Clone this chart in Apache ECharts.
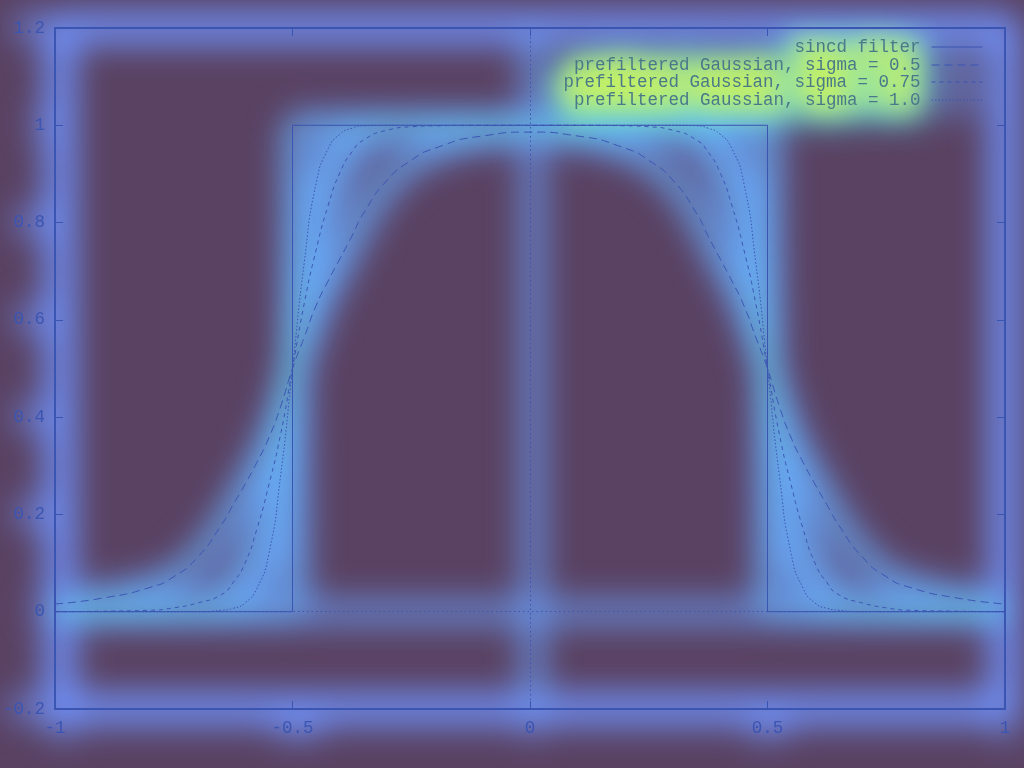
<!DOCTYPE html>
<html>
<head>
<meta charset="utf-8">
<script src="https://cdn.jsdelivr.net/npm/echarts@6/dist/echarts.min.js"></script>
<style>
  html, body { margin: 0; padding: 0; background: #5a4262; overflow: hidden; }
  .layer { position: absolute; left: 0; top: 0; width: 1024px; height: 768px; }
  #glow { filter: blur(17px); }
  #hot { filter: blur(13px); }
</style>
</head>
<body>
<div id="glow" class="layer"></div>
<div id="hot" class="layer"></div>
<div id="main" class="layer"></div>
<script>
// ---- data ----
const seriesNames = ['sincd filter', 'prefiltered Gaussian, sigma = 0.5', 'prefiltered Gaussian, sigma = 0.75', 'prefiltered Gaussian, sigma = 1.0'];

const sincX = [-1, -0.5, -0.5, 0.5, 0.5, 1];
const sincY = [0, 0, 1, 1, 0, 0];

const xs = [-1, -0.9, -0.8, -0.75, -0.7, -0.65, -0.625, -0.6, -0.575, -0.55, -0.525, -0.5, -0.475, -0.45, -0.425, -0.4, -0.375, -0.35, -0.3, -0.25, -0.2, -0.1,
            0,
            0.1, 0.2, 0.25, 0.3, 0.35, 0.375, 0.4, 0.425, 0.45, 0.475, 0.5, 0.525, 0.55, 0.575, 0.6, 0.625, 0.65, 0.7, 0.75, 0.8, 0.9, 1];

const gauss050 = [0.016, 0.028, 0.05, 0.072, 0.112, 0.178, 0.22, 0.262, 0.307, 0.357, 0.422, 0.5, 0.565, 0.63, 0.68, 0.726, 0.772, 0.82, 0.888, 0.928, 0.953, 0.978,
                  0.986,
                  0.978, 0.953, 0.928, 0.888, 0.82, 0.772, 0.726, 0.68, 0.63, 0.565, 0.5, 0.422, 0.357, 0.307, 0.262, 0.22, 0.178, 0.112, 0.072, 0.05, 0.028, 0.016];

const gauss075 = [0, 0.001, 0.003, 0.008, 0.018, 0.035, 0.06, 0.1, 0.17, 0.26, 0.365, 0.5, 0.635, 0.745, 0.835, 0.903, 0.945, 0.97, 0.99, 0.997, 0.999, 1,
                  1,
                  1, 0.999, 0.997, 0.99, 0.97, 0.945, 0.903, 0.835, 0.745, 0.635, 0.5, 0.365, 0.26, 0.17, 0.1, 0.06, 0.035, 0.018, 0.008, 0.003, 0.001, 0];

const gauss100 = [0, 0, 0, 0, 0, 0.003, 0.007, 0.018, 0.048, 0.118, 0.28, 0.5, 0.72, 0.882, 0.952, 0.982, 0.994, 0.999, 1, 1, 1, 1,
                  1,
                  1, 1, 1, 1, 0.999, 0.994, 0.982, 0.952, 0.882, 0.72, 0.5, 0.28, 0.118, 0.048, 0.018, 0.007, 0.003, 0, 0, 0, 0, 0];

const xTicks = [-1, -0.5, 0, 0.5, 1];
const yTicks = [-0.2, 0, 0.2, 0.4, 0.6, 0.8, 1, 1.2];

// ---- build ----
function pairs(a, b) { return a.map((v, i) => [v, b[i]]); }

const FONT = '"Liberation Mono", "DejaVu Sans Mono", monospace';
const dashes = ['solid', [8, 5], [4, 4], [1.5, 2]];
const legendTops = [38, 56, 73, 91];

// mode: 'main' | 'glow' | 'hot'
function build(mode) {
  const ink = '#3b55b2';
  const isMain = mode === 'main';
  const isGlow = mode === 'glow';
  const isHot = mode === 'hot';
  const lineGlow = '#6aa2ff';
  const frameGlow = '#7094ff';
  const textGlow = '#7094ff';
  const hotColor = 'rgba(80,255,190,0.11)';

  const axisCommon = (pos, isX, showLabel) => ({
    type: 'value',
    position: pos,
    min: isX ? xTicks[0] : yTicks[0],
    max: isX ? xTicks[xTicks.length - 1] : yTicks[yTicks.length - 1],
    interval: isX ? 0.5 : 0.2,
    axisLine: { show: !isHot, onZero: false, lineStyle: { color: isGlow ? frameGlow : ink, width: isGlow ? 30 : 2 } },
    axisTick: { show: !isHot, inside: true, length: 8, lineStyle: { color: isGlow ? frameGlow : ink, width: isGlow ? 6 : 1 } },
    splitLine: { show: false },
    axisLabel: {
      show: showLabel && !isHot,
      fontFamily: FONT,
      fontSize: 17.5,
      color: isGlow ? textGlow : ink,
      fontWeight: isGlow ? 'bold' : 'normal',
      textBorderColor: isGlow ? textGlow : 'transparent',
      textBorderWidth: isGlow ? 9 : 0,
      margin: 10,
      showMinLabel: true,
      showMaxLabel: true
    }
  });

  const curves = [pairs(sincX, sincY), pairs(xs, gauss050), pairs(xs, gauss075), pairs(xs, gauss100)];

  const series = curves.map((d, i) => {
    let lc = ink, lw = 1, lt = dashes[i];
    if (isGlow) { lc = lineGlow; lw = 24; lt = 'solid'; }
    if (isHot) { lc = hotColor; lw = 14; lt = 'solid'; }
    return {
      name: seriesNames[i],
      type: 'line',
      data: d,
      symbol: 'none',
      smooth: i === 0 ? false : 0.6,
      color: lc,
      lineStyle: { color: lc, width: lw, type: lt, opacity: isGlow ? 0.9 : 1 },
      z: 3,
      markLine: (i === 0 && !isHot) ? {
        silent: true,
        symbol: 'none',
        label: { show: false },
        lineStyle: { color: isGlow ? lineGlow : ink, width: isGlow ? 20 : 1, type: isGlow ? 'solid' : [1.5, 3], opacity: isGlow ? 0.9 : 1 },
        data: [{ xAxis: 0 }, { yAxis: 0 }]
      } : undefined
    };
  });

  const legends = seriesNames.map((n, i) => {
    let tc = '#4a7a8a', tw = 'normal', tbc = 'transparent', tbw = 0;
    if (isGlow) { tc = '#5cd2f2'; tw = 'bold'; tbc = '#5cd2f2'; tbw = 16; }
    if (isHot) { tc = '#c4f064'; tw = 'bold'; tbc = '#c4f064'; tbw = 7; }
    return {
      data: [n],
      orient: 'vertical',
      right: 41,
      top: legendTops[i],
      padding: 0,
      align: 'right',
      itemWidth: 51,
      itemHeight: 14,
      textStyle: {
        fontFamily: FONT,
        fontSize: 17.5,
        color: tc,
        fontWeight: tw,
        textBorderColor: tbc,
        textBorderWidth: tbw,
        padding: [0, 6, 0, 0]
      },
      itemStyle: { opacity: 0 },
      lineStyle: { width: isMain ? 1 : 8, color: isMain ? ink : (isGlow ? lineGlow : 'rgba(0,0,0,0)'), type: isMain ? dashes[i] : 'solid' },
      selectedMode: false
    };
  });

  return {
    animation: false,
    backgroundColor: 'transparent',
    grid: { left: 53, right: 19, top: 28, bottom: 59, containLabel: false },
    xAxis: [axisCommon('bottom', true, true), axisCommon('top', true, false)],
    yAxis: [axisCommon('left', false, true), axisCommon('right', false, false)],
    legend: legends,
    series: series
  };
}

['glow', 'hot', 'main'].forEach(m => {
  const c = echarts.init(document.getElementById(m), null, { renderer: 'canvas' });
  c.setOption(build(m));
});
</script>
</body>
</html>
